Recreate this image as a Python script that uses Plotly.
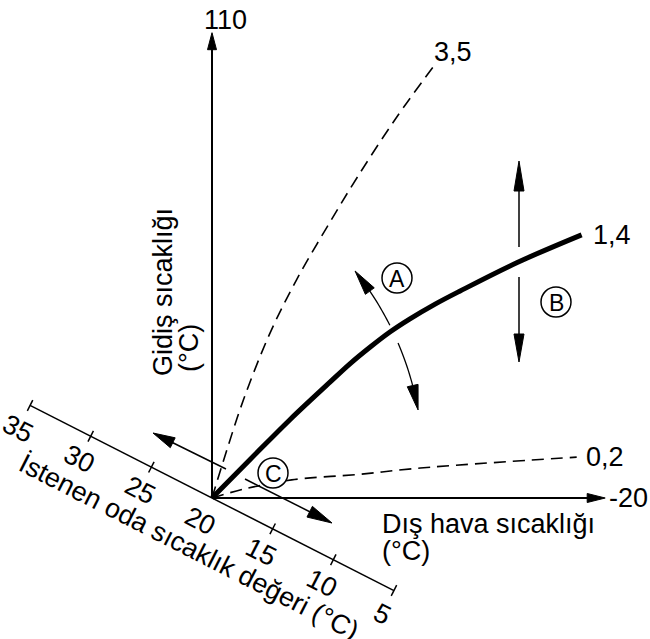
import math
import plotly.graph_objects as go

# heating curves: outdoor temperature (°C) -> flow temperature (°C)
curve_35_out = [20, 18.9, 16.8, 14.1, 11.4, 8.3, 5.2, 1.2, -2.5]
curve_35_flow = [20, 26.8, 39.0, 51.9, 62.2, 72.4, 82.1, 93.7, 103.4]
curve_14_out = [20, 16.1, 12.1, 8.0, 6.0, 3.9, 1.9, -0.1, -2.7, -5.2, -11.0, -17.6]
curve_14_flow = [20, 27.5, 35.1, 42.4, 45.9, 49.2, 52.1, 54.6, 57.5, 60.0, 65.5, 70.9]
curve_02_out = [20, 16.8, 11.9, 4.9, -1.2, -17.1]
curve_02_flow = [20, 21.7, 23.5, 24.6, 25.8, 27.9]
slope_labels = ["3,5", "1,4", "0,2"]

room_ticks = [35, 30, 25, 20, 15, 10, 5]   # desired room temperature axis
out_end = -20      # outdoor axis end
flow_end = 110     # flow axis end

FONT = "Liberation Sans, Arial, sans-serif"
W, H = 650, 639
OX, OY = 212, 498      # pixel of the origin (20 / 20)
KX, KY = 9.83, 5.17    # pixels per degree
RX, RY = 12.13, 6.17   # room axis, pixels per degree


def dx(px):
    return 20 - (px - OX) / KX


def dy(py):
    return 20 + (OY - py) / KY


def to_px(xd, yd):
    return OX + (20 - xd) * KX, OY - (yd - 20) * KY


def room_px(v, off=0.0):
    # point on the slanted room axis, shifted along its normal by off pixels
    n = math.hypot(RX, RY)
    nx, ny = -RY / n, RX / n
    return OX + (20 - v) * RX + nx * off, OY + (20 - v) * RY + ny * off


def seg(p, q, w=1.5):
    return dict(type="line", x0=dx(p[0]), y0=dy(p[1]), x1=dx(q[0]), y1=dy(q[1]),
                line=dict(color="black", width=w))


def head(tail, tip, length, half):
    vx, vy = tip[0] - tail[0], tip[1] - tail[1]
    n = math.hypot(vx, vy)
    ux, uy = vx / n, vy / n
    bx, by = tip[0] - ux * length, tip[1] - uy * length
    pts = [tip, (bx - uy * half, by + ux * half), (bx + uy * half, by - ux * half)]
    path = "M " + " L ".join(f"{dx(x)},{dy(y)}" for x, y in pts) + " Z"
    return dict(type="path", path=path, fillcolor="black", line=dict(color="black", width=1))


def arrow(tail, tip, length, half, w=1.5):
    vx, vy = tip[0] - tail[0], tip[1] - tail[1]
    n = math.hypot(vx, vy)
    base = (tip[0] - vx / n * length * 0.8, tip[1] - vy / n * length * 0.8)
    return [seg(tail, base, w), head(tail, tip, length, half)]


def arc_arrow(c, r, a0, a1, a_tip, half):
    pts = []
    steps = 12
    for i in range(steps + 1):
        a = math.radians(a0 + (a1 - a0) * i / steps)
        pts.append((c[0] + r * math.cos(a), c[1] + r * math.sin(a)))
    path = "M " + " L ".join(f"{dx(x)},{dy(y)}" for x, y in pts)
    at = math.radians(a_tip)
    tip = (c[0] + r * math.cos(at), c[1] + r * math.sin(at))
    base = pts[-1]
    return [dict(type="path", path=path, line=dict(color="black", width=1.3)),
            head(base, tip, math.hypot(tip[0] - base[0], tip[1] - base[1]), half)]


def circle(cx, cy, r=15):
    return dict(type="circle", x0=dx(cx - r), x1=dx(cx + r), y0=dy(cy - r), y1=dy(cy + r),
                fillcolor="white", line=dict(color="black", width=1.5))


fig = go.Figure()
dash = "12px,7px"
fig.add_trace(go.Scatter(x=curve_35_out, y=curve_35_flow, mode="lines", line_shape="spline",
                         line=dict(color="black", width=1.6, dash=dash)))
fig.add_trace(go.Scatter(x=curve_02_out, y=curve_02_flow, mode="lines", line_shape="spline",
                         line=dict(color="black", width=1.6, dash=dash)))
fig.add_trace(go.Scatter(x=curve_14_out, y=curve_14_flow, mode="lines", line_shape="spline",
                         line=dict(color="black", width=5)))

shapes = []
origin = to_px(20, 20)
# main axes
shapes += arrow(origin, to_px(20, flow_end), 17, 4.5, 2)
shapes += arrow(origin, to_px(out_end, 20), 18, 4.5, 2)

# slanted room temperature axis
p_start, p_end = room_px(room_ticks[0]), room_px(room_ticks[-1])
shapes.append(seg(p_start, p_end, 1.5))
for v in room_ticks:
    if v == 20:
        continue
    shapes.append(seg(room_px(v, -6), room_px(v, 6), 1.5))

# shift arrows (C)
shapes += arrow((226, 469), (153, 433), 22, 5.5)
shapes += arrow((245, 479), (332, 523), 25, 6)
# B arrows
shapes += arrow((519, 247), (519, 161), 30, 5)
shapes += arrow((519, 277), (519, 362), 28, 5)
# A arc arrows
shapes += arc_arrow((112, 465), 311, -26.7, -34.0, -38.6, 5.5)
shapes += arc_arrow((112, 465), 311, -23.1, -14.8, -10.2, 5.5)
# lettered circles
shapes += [circle(397, 278), circle(556, 302), circle(273, 473)]

ann = []


def text(x, y, s, size=27, angle=0, xanchor="center"):
    ann.append(dict(x=dx(x), y=dy(y), text=s, showarrow=False, textangle=angle,
                    xanchor=xanchor, yanchor="middle", font=dict(family=FONT, size=size, color="black")))


text(225, 20, str(flow_end))
text(628, 498, str(out_end))
text(380, 524, "Dış hava sıcaklığı", xanchor="left")
text(380, 551, "(°C)", xanchor="left")
text(163, 292, "Gidiş sıcaklığı", angle=-90)
text(189, 348, "(°C)", angle=-90)
text(189, 546, "İstenen oda sıcaklık değeri (°C)", angle=27)
for v in room_ticks:
    tx, ty = room_px(v, 26)
    text(tx, ty, str(v), angle=27)

# slope labels next to curve ends
ends = [(curve_35_out[-1], curve_35_flow[-1], 20, -15),
        (curve_14_out[-1], curve_14_flow[-1], 30, 0),
        (curve_02_out[-1], curve_02_flow[-1], 28, 0)]
for lab, (ex, ey, sx, sy) in zip(slope_labels, ends):
    px, py = to_px(ex, ey)
    text(px + sx, py + sy, lab)

for lab, (cx, cy) in zip(["A", "B", "C"], [(397, 278), (556, 302), (273, 473)]):
    text(cx, cy + 1, lab, size=23)

fig.update_layout(width=W, height=H, margin=dict(l=0, r=0, t=0, b=0),
                  plot_bgcolor="white", paper_bgcolor="white", showlegend=False,
                  hovermode=False, shapes=shapes, annotations=ann)
fig.update_xaxes(range=[dx(0), dx(W)], visible=False)
fig.update_yaxes(range=[dy(H), dy(0)], visible=False)
# drop the default page margin so the figure fills the window
fig.write_html("out.html", config={"displayModeBar": False},
               post_script="document.body.style.margin='0';")
